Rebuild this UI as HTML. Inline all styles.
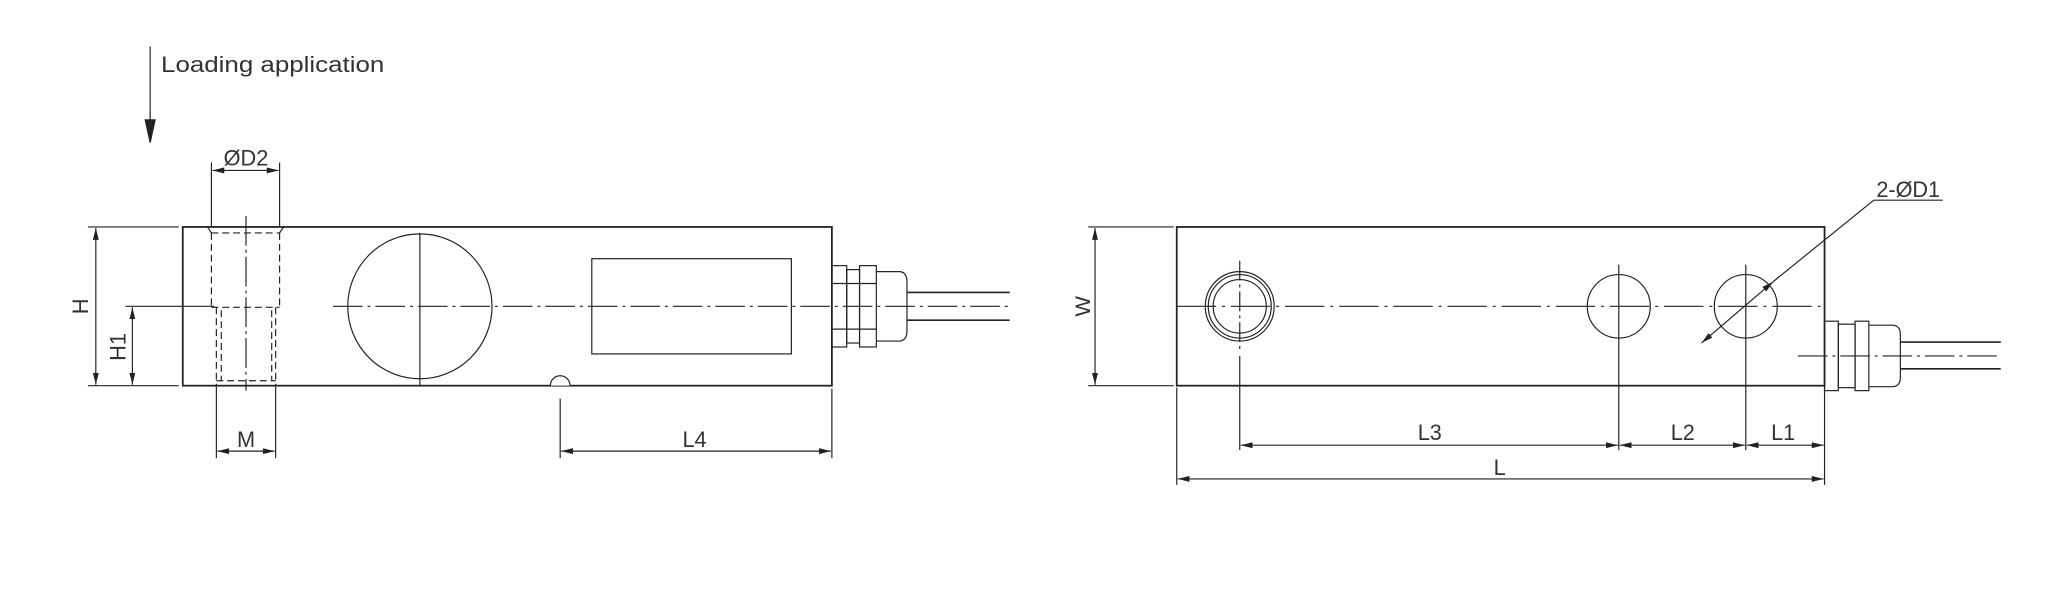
<!DOCTYPE html>
<html><head><meta charset="utf-8"><style>
html,body{margin:0;padding:0;background:#fff}
svg{display:block}
text{font-family:"Liberation Sans",sans-serif;fill:#333;font-size:22px}
</style></head><body>
<svg width="2048" height="601" viewBox="0 0 2048 601" xmlns="http://www.w3.org/2000/svg">
<defs>
<marker id="a" viewBox="0 0 12 6" refX="12" refY="3" markerWidth="12" markerHeight="6" markerUnits="userSpaceOnUse" orient="auto-start-reverse"><path d="M0,0L12,3L0,6Z" fill="#222"/></marker>
</defs>
<g transform="matrix(0.988,0,0,0.992,-1,-1.2)">
<g stroke="#222" fill="none" stroke-width="1.2">
<line x1="153" y1="48" x2="153" y2="124"/>
<path d="M148,122L158,122L153,145Z" fill="#222"/>
</g>
<text x="164" y="74" textLength="226" lengthAdjust="spacingAndGlyphs">Loading application</text>

<!-- LEFT VIEW -->
<g stroke="#222" fill="none" stroke-width="1.2">
<rect x="186" y="230" width="657" height="160" stroke-width="1.8"/>
<line x1="90" y1="230" x2="182" y2="230"/>
<line x1="90" y1="390" x2="182" y2="390"/>
<line x1="98" y1="231" x2="98" y2="389" marker-start="url(#a)" marker-end="url(#a)"/>
<line x1="128" y1="310" x2="218" y2="310"/>
<line x1="135" y1="311" x2="135" y2="389" marker-start="url(#a)" marker-end="url(#a)"/>
<g stroke-dasharray="7,4">
<line x1="215" y1="236" x2="215" y2="310"/>
<line x1="284" y1="236" x2="284" y2="310"/>
<line x1="215" y1="236" x2="284" y2="236"/>
<line x1="215" y1="311" x2="284" y2="311"/>
<line x1="220" y1="311" x2="220" y2="390"/>
<line x1="280" y1="311" x2="280" y2="390"/>
<line x1="225" y1="314" x2="225" y2="385"/>
<line x1="276" y1="314" x2="276" y2="385"/>
<line x1="220" y1="385" x2="280" y2="385"/>
</g>
<line x1="211" y1="230" x2="215" y2="236"/><line x1="288" y1="230" x2="284" y2="236"/>
<line x1="250" y1="219" x2="250" y2="395" stroke-dasharray="30,4,3,4"/>
<line x1="215" y1="165" x2="215" y2="229"/>
<line x1="284" y1="165" x2="284" y2="229"/>
<line x1="216" y1="173" x2="283" y2="173" marker-start="url(#a)" marker-end="url(#a)"/>
<line x1="220" y1="391" x2="220" y2="463"/>
<line x1="280" y1="391" x2="280" y2="463"/>
<line x1="221" y1="456" x2="279" y2="456" marker-start="url(#a)" marker-end="url(#a)"/>
<circle cx="426" cy="310" r="73"/>
<line x1="426" y1="236" x2="426" y2="390"/>
<line x1="338" y1="310" x2="1023" y2="310" stroke-dasharray="30,5,3,5"/>
<rect x="600" y="262" width="202" height="96"/>
<path d="M558,390 A10,10 0 0 1 578,390" fill="#fff"/>
<rect x="843" y="269" width="15" height="82"/>
<rect x="858" y="273" width="13" height="74"/>
<rect x="871" y="269" width="17" height="82"/>
<path d="M888,275 L912,275 Q919,276 919,285 L919,335 Q919,344 912,345 L888,345"/>
<line x1="843" y1="287" x2="888" y2="287"/><line x1="843" y1="333" x2="888" y2="333"/>
<line x1="919" y1="296" x2="1023" y2="296" stroke-width="1.6"/>
<line x1="919" y1="324" x2="1023" y2="324" stroke-width="1.6"/>
<line x1="568" y1="403" x2="568" y2="463"/>
<line x1="843" y1="393" x2="843" y2="463"/>
<line x1="569" y1="456" x2="842" y2="456" marker-start="url(#a)" marker-end="url(#a)"/>
</g>
<text x="0" y="0" transform="translate(90,310) rotate(-90)" text-anchor="middle">H</text>
<text x="0" y="0" transform="translate(128,351) rotate(-90)" text-anchor="middle">H1</text>
<text x="250" y="168" text-anchor="middle">ØD2</text>
<text x="250" y="452" text-anchor="middle">M</text>
<text x="704" y="452" text-anchor="middle">L4</text>
</g>

<!-- RIGHT VIEW -->
<g transform="matrix(0.9845,0,0,0.992,17,-1.2)">
<g stroke="#222" fill="none" stroke-width="1.2">
<rect x="1178" y="230" width="658" height="160" stroke-width="1.8"/>
<line x1="1088" y1="230" x2="1175" y2="230"/>
<line x1="1088" y1="390" x2="1175" y2="390"/>
<line x1="1095" y1="231" x2="1095" y2="389" marker-start="url(#a)" marker-end="url(#a)"/>
<line x1="1178" y1="310" x2="1836" y2="310" stroke-dasharray="40,6,3,6"/>
<circle cx="1242" cy="310" r="35"/>
<circle cx="1242" cy="310" r="32"/>
<circle cx="1242" cy="310" r="27"/>
<circle cx="1627" cy="310" r="32"/>
<circle cx="1756" cy="310" r="32"/>
<line x1="1242" y1="264" x2="1242" y2="355" stroke-dasharray="20,4,3,4"/>
<line x1="1627" y1="268" x2="1627" y2="343"/>
<line x1="1756" y1="268" x2="1756" y2="343"/>
<line x1="1242" y1="360" x2="1242" y2="455"/>
<line x1="1627" y1="343" x2="1627" y2="455"/>
<line x1="1756" y1="343" x2="1756" y2="455"/>
<line x1="1178" y1="392" x2="1178" y2="490"/>
<line x1="1836" y1="392" x2="1836" y2="490"/>
<line x1="1243" y1="450" x2="1626" y2="450" marker-start="url(#a)" marker-end="url(#a)"/>
<line x1="1628" y1="450" x2="1755" y2="450" marker-start="url(#a)" marker-end="url(#a)"/>
<line x1="1757" y1="450" x2="1835" y2="450" marker-start="url(#a)" marker-end="url(#a)"/>
<line x1="1179" y1="484" x2="1835" y2="484" marker-start="url(#a)" marker-end="url(#a)"/>
<line x1="1711" y1="347" x2="1784" y2="285" marker-start="url(#a)" marker-end="url(#a)"/>
<line x1="1784" y1="285" x2="1886" y2="203"/>
<line x1="1886" y1="203" x2="1956" y2="203"/>
<rect x="1836" y="325" width="14" height="70"/>
<rect x="1850" y="328" width="17" height="64"/>
<rect x="1867" y="325" width="14" height="70"/>
<path d="M1881,329 L1906,329 Q1913,330 1913,338 L1913,382 Q1913,390 1906,391 L1881,391"/>
<line x1="1913" y1="346" x2="2015" y2="346" stroke-width="1.6"/>
<line x1="1913" y1="373" x2="2015" y2="373" stroke-width="1.6"/>
<line x1="1809" y1="360" x2="2015" y2="360" stroke-dasharray="30,5,3,5"/>
</g>
<text x="0" y="0" transform="translate(1090,310) rotate(-90)" text-anchor="middle">W</text>
<text x="1921" y="200" text-anchor="middle">2-ØD1</text>
<text x="1435" y="445" text-anchor="middle">L3</text>
<text x="1692" y="445" text-anchor="middle">L2</text>
<text x="1794" y="445" text-anchor="middle">L1</text>
<text x="1506" y="480" text-anchor="middle">L</text>
</g>
</svg>
</body></html>
